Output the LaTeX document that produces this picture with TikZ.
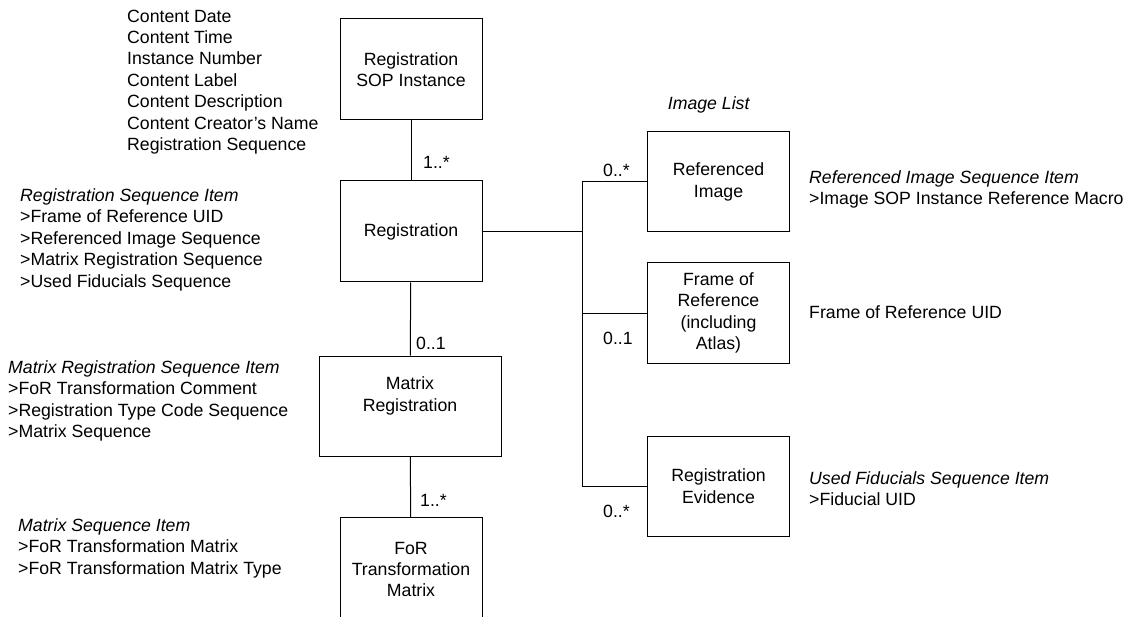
\documentclass[tikz,border=0pt]{standalone}
\usepackage{fontspec}
\setmainfont{Liberation Sans}
\usetikzlibrary{positioning}

\begin{document}
\begin{tikzpicture}[
  x=1pt, y=-1pt,
  font=\fontsize{17.7}{21.4}\selectfont,
  box/.style={draw=black, align=center, inner sep=0pt, minimum width=142pt, minimum height=101pt, line width=1pt},
  itembox/.style={box, minimum height=100pt},
  note/.style={align=left, anchor=north west, inner sep=0pt},
  mult/.style={anchor=base west, inner sep=0pt},
  link/.style={draw=black, line width=1pt}
]
\useasboundingbox (0,0) rectangle (1131,617);
\clip (0,0) rectangle (1131,617);
% classes
\node[box] (sop) at (411,69.5) {Registration\\SOP Instance};
\node[box] (reg) at (411,231.5) {Registration};
\node[box, minimum width=182pt, minimum height=100pt, text depth=24pt] (mreg) at (410,406) {Matrix\\Registration};
\node[box, minimum height=104pt, anchor=north] (ftm) at (411,517) {FoR\\Transformation\\Matrix};
\node[itembox] (refimg) at (718.5,182) {Referenced\\Image};
\node[itembox] (frame) at (718.5,313) {Frame of\\Reference\\(including\\Atlas)};
\node[itembox] (evid) at (718.5,486) {Registration\\Evidence};
\coordinate (hub) at (582,231.5);
% attribute notes
\node[note] (sopnote) at (127,9.5) {Content Date\\Content Time\\Instance Number\\Content Label\\Content Description\\Content Creator's Name\\Registration Sequence};
\node[note] (regnote) at (20,188.5) {\textit{Registration Sequence Item}\\>Frame of Reference UID\\>Referenced Image Sequence\\>Matrix Registration Sequence\\>Used Fiducials Sequence};
\node[note] (mregnote) at (8,360.5) {\textit{Matrix Registration Sequence Item}\\>FoR Transformation Comment\\>Registration Type Code Sequence\\>Matrix Sequence};
\node[note] (ftmnote) at (18,518.5) {\textit{Matrix Sequence Item}\\>FoR Transformation Matrix\\>FoR Transformation Matrix Type};
\node[note] (refimgnote) at (809,170) {\textit{Referenced Image Sequence Item}\\>Image SOP Instance Reference Macro};
\node[note] (framenote) at (809,305.5) {Frame of Reference UID};
\node[note] (evidnote) at (809,471.5) {\textit{Used Fiducials Sequence Item}\\>Fiducial UID};
\node[anchor=base, inner sep=0pt] (imglist) at (709,109.5) {\textit{Image List}};
% multiplicities
\node[mult] (m1) at (423,168.5) {1..*};
\node[mult] (m2) at (416,349.5) {0..1};
\node[mult] (m3) at (420,506.5) {1..*};
\node[mult] (m4) at (603,176.5) {0..*};
\node[mult] (m5) at (603,344.5) {0..1};
\node[mult] (m6) at (603,517.5) {0..*};
% associations
\draw[link] (sop) -- (reg);
\draw[link] (reg) -- (mreg);
\draw[link] (mreg) -- (ftm);
\draw[link] (reg.east) -- (hub);
\draw[link] (refimg.west) -- (refimg.west -| hub) -- (evid.west -| hub) -- (evid.west);
\draw[link] (frame.west) -- (frame.west -| hub);
\end{tikzpicture}
\end{document}
